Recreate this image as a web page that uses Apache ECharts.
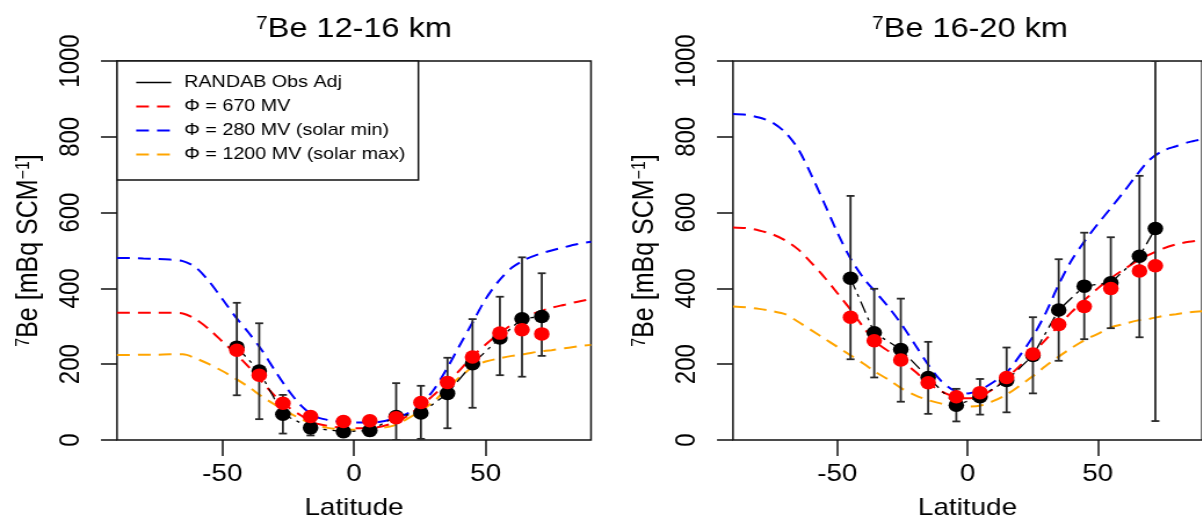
<!DOCTYPE html>
<html>
<head>
<meta charset="utf-8">
<script src="https://cdn.jsdelivr.net/npm/echarts@6/dist/echarts.min.js"></script>
<style>
  html, body { margin: 0; padding: 0; background: #fff; width: 1202px; height: 525px; overflow: hidden; }
  #chart { height: 525px; transform-origin: 0 0; }
</style>
</head>
<body>
<div id="chart"></div>
<script>
// ---- model curves: latitude grid ----
const curveLat = [-90,-85,-80,-75,-70,-65,-60,-55,-50,-45,-40,-35,-30,-25,-20,-15,-10,-5,0,5,10,15,20,25,30,35,40,45,50,55,60,65,70,75,80,85,90];

// 12-16 km model curves
const phi670_12  = [336,336,336,336,336,334,318,292,260,228,193,154,116,87,64,45,37,33,31,31,35,45,62,88,117,150,183,221,252,280,305,325,338,349,357,365,372];
const phi280_12  = [480,480,479,478,476,472,455,418,372,325,283,237,183,132,90,63,53,48,46,46,48,56,69,92,130,185,248,310,372,420,455,476,490,500,509,517,523];
const phi1200_12 = [224,224,225,225,226,226,215,200,182,162,140,115,93,73,55,40,32,28,27,27,31,38,55,76,100,133,165,192,207,215,222,227,233,237,242,247,251];

// 16-20 km model curves
const phi670_16  = [561,559,553,543,527,503,468,430,388,345,298,257,233,208,180,150,128,114,110,116,135,163,195,228,265,302,338,370,400,427,450,472,490,505,516,523,527];
const phi280_16  = [860,858,851,838,812,768,700,625,548,480,428,388,348,302,250,198,155,130,123,133,153,178,222,272,335,410,475,525,570,612,655,700,740,763,775,786,793];
const phi1200_16 = [352,350,346,340,332,312,290,268,246,224,202,178,158,135,118,105,96,90,88,91,103,120,143,168,195,220,243,264,280,297,306,315,320,327,332,337,340];

// ---- RANDAB observations (adjusted) and model at station latitudes ----
const lat12    = [-44.5,-36,-27,-16.5,-4,6,16,25.4,35.5,45,55.4,63.8,71.3];
const obs12    = [245,182,68,32,22,25,62,71,123,201,269,320,326];
const obsLo12  = [118,55,17,12,10,12,0,3,31,85,171,167,222];
const obsHi12  = [362,308,119,58,45,50,150,143,217,319,378,482,440];
const model12  = [237,171,97,62,49,51,59,99,152,219,282,291,280];

const lat16    = [-44.9,-35.8,-25.6,-15.1,-4.3,4.8,15,25.1,35,44.8,55,66,72.1];
const obs16    = [427,283,239,165,92,114,157,223,343,406,415,485,558];
const obsLo16  = [213,165,101,69,49,67,73,123,209,266,295,271,50];
const obsHi16  = [644,399,373,259,135,161,244,324,477,547,535,697,1000];
const model16  = [324,262,211,151,114,125,165,227,305,352,400,446,460];

// ---- labels ----
const xTicks = [-50, 0, 50];
const panelTitles = ['{s|7}Be 12-16 km', '{s|7}Be 16-20 km'];
const yName = '{s|7}Be [mBq SCM{s|\u22121}]';
const xName = 'Latitude';
const names = {
  obs: 'RANDAB Obs Adj',
  p670: '\u03A6 = 670 MV',
  p280: '\u03A6 = 280 MV (solar min)',
  p1200: '\u03A6 = 1200 MV (solar max)'
};

// The figure is laid out on a narrower canvas and widened horizontally.
const STRETCH = 1.16;
const W = 1202, H = 525;
const hx = v => v / STRETCH;   // horizontal page pixels -> canvas pixels

const FONT = "'Liberation Sans', Arial, Helvetica, sans-serif";
const pairs = (xs, ys) => xs.map((x, i) => [x, ys[i]]);
const triples = (xs, lo, hi) => xs.map((x, i) => [x, lo[i], hi[i]]);

const grids = [
  { left: hx(117), top: 61, width: hx(474), height: 379 },
  { left: hx(733), top: 61, width: hx(474), height: 379 }
];

function xAxisFor(i) {
  return {
    type: 'value', gridIndex: i, min: -90, max: 90,
    axisLine: { show: false, onZero: false },
    splitLine: { show: false },
    axisTick: { show: true, length: 16, customValues: xTicks, lineStyle: { color: '#111', width: 1.5 } },
    axisLabel: { customValues: xTicks, margin: 22, fontSize: 24, color: '#000', fontFamily: FONT },
    name: xName, nameLocation: 'middle', nameGap: 56,
    nameTextStyle: { fontSize: 24, color: '#000', fontFamily: FONT }
  };
}

function yAxisFor(i) {
  return {
    type: 'value', gridIndex: i, min: 0, max: 1000, interval: 200,
    axisLine: { show: false, onZero: false },
    splitLine: { show: false },
    axisTick: { show: true, length: hx(16), lineStyle: { color: '#111', width: 1.5 } },
    axisLabel: {
      rotate: 90, margin: hx(32), fontSize: 24, color: '#000', fontFamily: FONT,
      formatter: v => String(v)
    },
    name: yName, nameLocation: 'middle', nameRotate: 90, nameGap: 63,
    nameTextStyle: {
      fontSize: 25, color: '#000', fontFamily: FONT,
      rich: { s: { fontSize: 16, verticalAlign: 'top', fontFamily: FONT, color: '#000' } }
    }
  };
}

function dashed(name, i, data, color) {
  return {
    name, type: 'line', xAxisIndex: i, yAxisIndex: i, data,
    symbol: 'none', smooth: 0.3, z: 2,
    lineStyle: { color, width: 2, type: [11, 7] },
    itemStyle: { color }
  };
}

// vertical error bar with short caps, placed through the axis scales
function errorBar(params, api) {
  const x = api.value(0), lo = api.value(1), hi = api.value(2);
  const top = api.coord([x, hi]);
  const bot = api.coord([x, lo]);
  const half = hx(4);
  const style = { stroke: '#2a2a2a', lineWidth: 1.8 };
  return {
    type: 'group',
    children: [
      { type: 'line', shape: { x1: top[0], y1: top[1], x2: bot[0], y2: bot[1] }, style },
      { type: 'line', shape: { x1: top[0] - half, y1: top[1], x2: top[0] + half, y2: top[1] }, style },
      { type: 'line', shape: { x1: bot[0] - half, y1: bot[1], x2: bot[0] + half, y2: bot[1] }, style }
    ]
  };
}

function panelSeries(i, lat, obs, lo, hi, model, c670, c280, c1200) {
  return [
    dashed(names.p280, i, pairs(curveLat, c280), '#0000ff'),
    dashed(names.p670, i, pairs(curveLat, c670), '#ff0000'),
    dashed(names.p1200, i, pairs(curveLat, c1200), '#ffa500'),
    {
      name: names.obs, type: 'line', xAxisIndex: i, yAxisIndex: i,
      data: pairs(lat, obs), symbol: 'none', z: 3,
      lineStyle: { color: '#000', width: 1.3, type: [12, 5, 3, 5] },
      itemStyle: { color: '#000' }
    },
    {
      type: 'custom', xAxisIndex: i, yAxisIndex: i, z: 4,
      data: triples(lat, lo, hi), renderItem: errorBar,
      encode: { x: 0, y: [1, 2] }, clip: true
    },
    {
      type: 'scatter', xAxisIndex: i, yAxisIndex: i, z: 5,
      data: pairs(lat, obs), symbol: 'circle', symbolSize: 13.5,
      itemStyle: { color: '#000', opacity: 1 }
    },
    {
      type: 'scatter', xAxisIndex: i, yAxisIndex: i, z: 6,
      data: pairs(lat, model), symbol: 'circle', symbolSize: 13.5,
      itemStyle: { color: '#ff0000', opacity: 1 }
    }
  ];
}

const el = document.getElementById('chart');
el.style.width = hx(W) + 'px';
el.style.transform = 'scaleX(' + STRETCH + ')';

const chart = echarts.init(el, null, { renderer: 'canvas', width: hx(W), height: H });

chart.setOption({
  animation: false,
  backgroundColor: '#fff',
  textStyle: { fontFamily: FONT },
  grid: grids.map(g => Object.assign({ show: true, borderColor: '#111', borderWidth: 1.5, backgroundColor: 'transparent', containLabel: false }, g)),
  xAxis: [xAxisFor(0), xAxisFor(1)],
  yAxis: [yAxisFor(0), yAxisFor(1)],
  legend: {
    left: hx(117), top: 61,
    orient: 'vertical',
    backgroundColor: '#fff',
    borderColor: '#111', borderWidth: 1.5, borderRadius: 0,
    padding: [13, hx(13), 17, hx(18)],
    itemWidth: hx(35), itemHeight: 14, itemGap: 7,
    itemStyle: { opacity: 0 },
    textStyle: { fontSize: 17, lineHeight: 17, color: '#000', fontFamily: FONT, padding: [0, 0, 0, hx(13) - 5] },
    selectedMode: false,
    data: [
      { name: names.obs, lineStyle: { type: 'solid', width: 1.5 } },
      { name: names.p670 },
      { name: names.p280 },
      { name: names.p1200 }
    ]
  },
  graphic: panelTitles.map((t, i) => ({
    type: 'text',
    x: grids[i].left + grids[i].width / 2,
    y: 29,
    style: {
      text: t, align: 'center', verticalAlign: 'middle',
      fontSize: 28, fill: '#000', fontFamily: FONT,
      rich: { s: { fontSize: 18, verticalAlign: 'top', fontFamily: FONT, fill: '#000' } }
    }
  })),
  series: [
    ...panelSeries(0, lat12, obs12, obsLo12, obsHi12, model12, phi670_12, phi280_12, phi1200_12),
    ...panelSeries(1, lat16, obs16, obsLo16, obsHi16, model16, phi670_16, phi280_16, phi1200_16)
  ]
});
</script>
</body>
</html>
